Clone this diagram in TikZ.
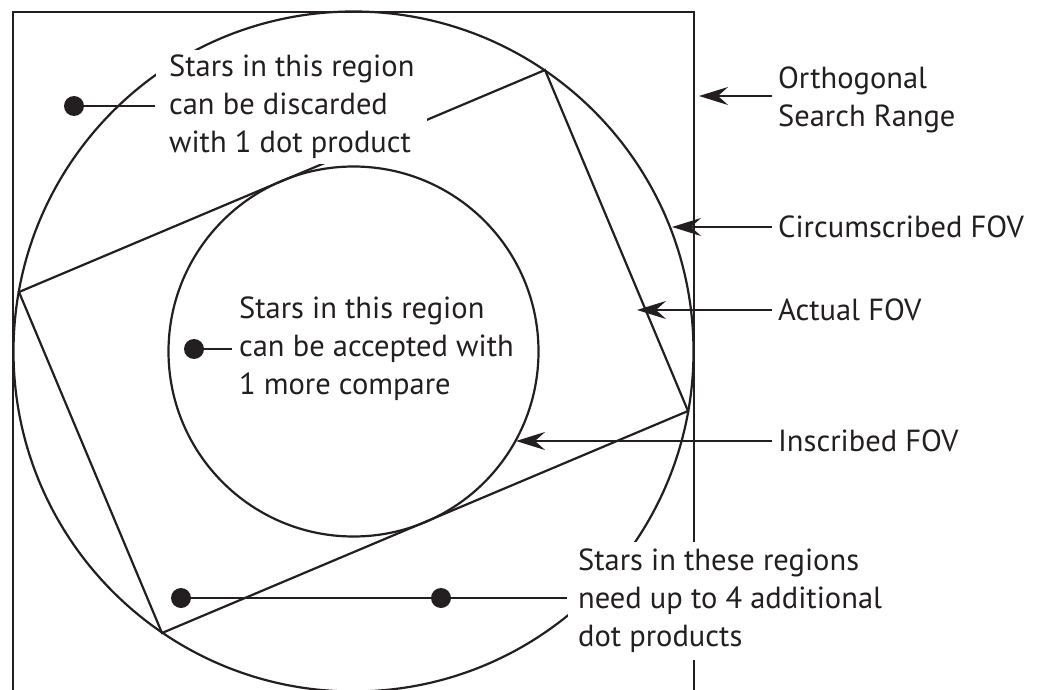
\documentclass[tikz,border=0pt]{standalone}
\usepackage{fontspec}
\setmainfont{PT Sans}
\usetikzlibrary{arrows.meta}
\definecolor{ink}{HTML}{231F20}
\begin{document}
\begin{tikzpicture}[x=1pt,y=-1pt,line width=2.2pt,draw=ink,
  lbl/.style={font=\fontsize{30.5}{38}\selectfont,text=ink,align=left,inner sep=0pt},
  dot/.style={circle,fill=ink,draw=none,minimum size=20pt,inner sep=0pt},
  pointer/.style={-{Stealth[length=29pt,width=18pt,inset=10pt]}}]
\useasboundingbox (0,0) rectangle (1044,690);
\clip (0,0) rectangle (1044,690);

% search range, circumscribed circle, rotated field of view, inscribed circle
\coordinate (c) at (353.5,351.5);
\draw (13,12) rectangle (694,693);
\draw (c) circle (340);
\draw (545,70) -- (688,411) -- (162,633) -- (19,292) -- cycle;
\draw (c) circle (185);

% region notes
\node[lbl,fill=white,inner xsep=13pt,inner ysep=5pt,anchor=west] (discard) at (155,107)
  {Stars in this region\\can be discarded\\with 1 dot product};
\node[lbl,inner xsep=6pt,inner ysep=4pt,anchor=west] (accept) at (232,349)
  {Stars in this region\\can be accepted with\\1 more compare};
\node[lbl,fill=white,inner xsep=10pt,inner ysep=7pt,anchor=west] (border) at (567,601)
  {Stars in these regions\\need up to 4 additional\\dot products};

% outline labels
\node[lbl,inner xsep=5pt,anchor=west] (osr) at (772,100) {Orthogonal\\Search Range};
\node[lbl,inner xsep=5pt,anchor=west] (cfov) at (772,227) {Circumscribed FOV};
\node[lbl,inner xsep=5pt,anchor=west] (afov) at (772,310) {Actual FOV};
\node[lbl,inner xsep=5pt,anchor=west] (ifov) at (772,441) {Inscribed FOV};

\coordinate (tO) at (699,96);
\coordinate (tC) at (672,227);
\coordinate (tA) at (637,310);
\coordinate (tI) at (516,441);
\draw[pointer] (osr.west |- tO) -- (tO);
\draw[pointer] (cfov.west |- tC) -- (tC);
\draw[pointer] (afov.west |- tA) -- (tA);
\draw[pointer] (ifov.west |- tI) -- (tI);

% sample stars with leaders
\node[dot] (d1) at (74,106) {};
\node[dot] (d2) at (194,349) {};
\node[dot] (d3) at (181,598) {};
\node[dot] (d4) at (441,598) {};
\draw (d1.center) -- (d1 -| discard.west);
\draw (d2.center) -- (d2 -| accept.west);
\draw (d3.center) -- (d4.center) -- (d4 -| border.west);
\end{tikzpicture}
\end{document}
